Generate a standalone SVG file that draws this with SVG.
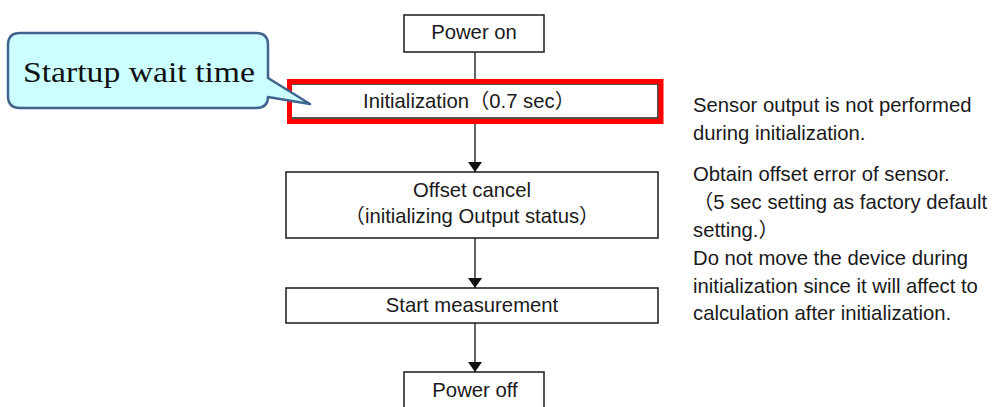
<svg xmlns="http://www.w3.org/2000/svg" width="995" height="407" viewBox="0 0 995 407">
<style>
.box{fill:#fff;stroke:#1a1a1a;stroke-width:1.5}
.t{font-family:"Liberation Sans","Noto Sans CJK JP",Arial,sans-serif;font-size:20.3px;fill:#1a1a1a}
.c{text-anchor:middle}
.ln{stroke:#333;stroke-width:1.5;fill:none}
</style>
<defs>
<marker id="ah" markerWidth="10" markerHeight="14" refX="10" refY="7" orient="auto" markerUnits="userSpaceOnUse">
<path d="M0,0 L10,7 L0,14 Z" fill="#111"/>
</marker>
</defs>
<rect width="995" height="407" fill="#fff"/>
<g id="connectors">
<line class="ln" x1="475" y1="52" x2="475" y2="82"/>
<line class="ln" x1="475" y1="122" x2="475" y2="172" marker-end="url(#ah)"/>
<line class="ln" x1="475" y1="238" x2="475" y2="288" marker-end="url(#ah)"/>
<line class="ln" x1="475" y1="323" x2="475" y2="372" marker-end="url(#ah)"/>
</g>
<g id="power-on">
<rect class="box" x="404" y="15" width="140" height="37"/>
<text class="t c" x="474" y="38.5">Power on</text>
</g>
<g id="initialization">
<rect class="box" x="291" y="84" width="367" height="34"/>
<rect x="289.5" y="81.5" width="371.5" height="40" fill="none" stroke="#ff0000" stroke-width="5"/>
<text class="t c" x="469" y="107.5">Initialization（0.7 sec）</text>
</g>
<g id="offset-cancel">
<rect class="box" x="286" y="172" width="372" height="66"/>
<text class="t c" x="472" y="197">Offset cancel</text>
<text class="t c" x="472" y="223">（initializing Output status）</text>
</g>
<g id="start-measurement">
<rect class="box" x="286" y="288" width="372" height="35"/>
<text class="t c" x="472" y="312">Start measurement</text>
</g>
<g id="power-off">
<rect class="box" x="404" y="372" width="140" height="40"/>
<text class="t c" x="475" y="397">Power off</text>
</g>
<g id="callout">
<path d="M20,33 H256 Q268,33 268,45 V78 L310,104 L268,97 Q268,108 256,108 H20 Q8,108 8,96 V45 Q8,33 20,33 Z" fill="#ccffff" stroke="#41648f" stroke-width="2.5" stroke-linejoin="round"/>
<text x="23" y="82" font-family="'Liberation Serif','Times New Roman',serif" font-size="29.5" fill="#111" textLength="232" lengthAdjust="spacingAndGlyphs">Startup wait time</text>
</g>
<g id="notes">
<text class="t" x="693" y="112">Sensor output is not performed</text>
<text class="t" x="693" y="140">during initialization.</text>
<text class="t" x="693" y="181">Obtain offset error of sensor.</text>
<text class="t" x="693" y="209">（5 sec setting as factory default</text>
<text class="t" x="693" y="237">setting.）</text>
<text class="t" x="693" y="265">Do not move the device during</text>
<text class="t" x="693" y="293">initialization since it will affect to</text>
<text class="t" x="693" y="320">calculation after initialization.</text>
</g>
</svg>
